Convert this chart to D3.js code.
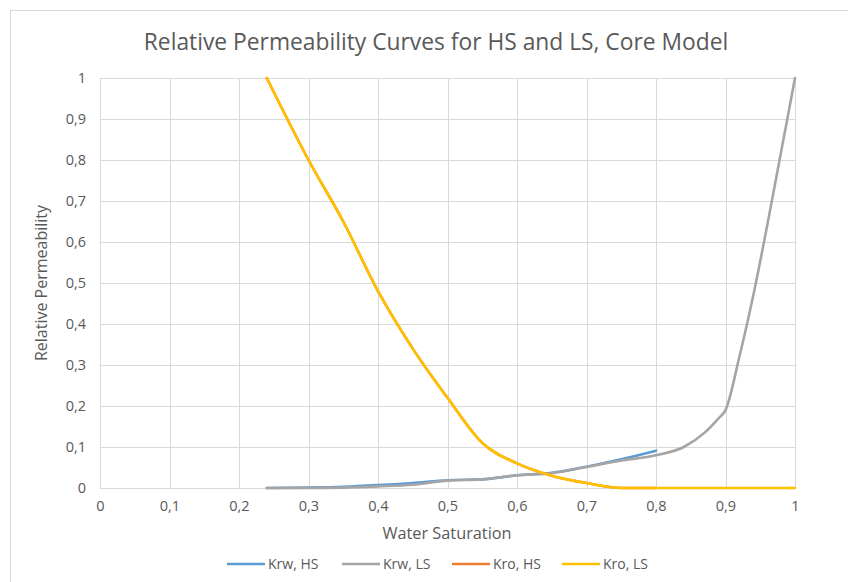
<!DOCTYPE html>
<html>
<head>
<meta charset="utf-8">
<script src="https://cdnjs.cloudflare.com/ajax/libs/d3/7.8.5/d3.min.js"></script>
<style>
  html, body { margin: 0; padding: 0; background: #fff; }
  svg { display: block; }
  text { font-family: "Open Sans", "Noto Sans", sans-serif; fill: #595959; }
</style>
</head>
<body>
<svg id="chart" width="848" height="582"></svg>
<script>
// Water saturation points and relative permeability values per series
const swKrwHS = [0.24, 0.30, 0.35, 0.40, 0.45, 0.50, 0.55, 0.60, 0.65, 0.70, 0.75, 0.80];
const krwHS   = [0.000, 0.001, 0.003, 0.007, 0.012, 0.019, 0.021, 0.031, 0.037, 0.052, 0.070, 0.091];

const swKrwLS = [0.24, 0.30, 0.35, 0.40, 0.45, 0.50, 0.55, 0.60, 0.65, 0.70, 0.75, 0.80, 0.84, 0.87, 0.89, 0.90, 0.92, 0.94, 0.96, 0.98, 1.00];
const krwLS   = [0.000, 0.000, 0.001, 0.004, 0.008, 0.018, 0.021, 0.031, 0.036, 0.051, 0.067, 0.080, 0.100, 0.135, 0.170, 0.190, 0.320, 0.470, 0.640, 0.820, 1.000];

const swKroHS = [0.24, 0.30, 0.35, 0.40, 0.45, 0.50, 0.55, 0.60, 0.65, 0.70, 0.75, 0.80];
const kroHS   = [1.00, 0.80, 0.65, 0.48, 0.34, 0.22, 0.11, 0.06, 0.03, 0.012, 0.000, 0.000];

const swKroLS = [0.24, 0.30, 0.35, 0.40, 0.45, 0.50, 0.55, 0.60, 0.65, 0.70, 0.75, 0.80, 0.85, 0.90, 0.95, 1.00];
const kroLS   = [1.00, 0.80, 0.65, 0.48, 0.34, 0.22, 0.11, 0.06, 0.03, 0.012, 0.000, 0.000, 0.000, 0.000, 0.000, 0.000];

const seriesNames  = ["Krw, HS", "Krw, LS", "Kro, HS", "Kro, LS"];
const seriesColors = ["#5B9BD5", "#A5A5A5", "#ED7D31", "#FFC000"];

const xTicks = [0, 0.1, 0.2, 0.3, 0.4, 0.5, 0.6, 0.7, 0.8, 0.9, 1];
const yTicks = [0, 0.1, 0.2, 0.3, 0.4, 0.5, 0.6, 0.7, 0.8, 0.9, 1];

const chartTitle = "Relative Permeability Curves for HS and LS, Core Model";
const xTitle = "Water Saturation";
const yTitle = "Relative Permeability";

const series = [
  { name: seriesNames[0], color: seriesColors[0], pts: swKrwHS.map((s, i) => [s, krwHS[i]]) },
  { name: seriesNames[1], color: seriesColors[1], pts: swKrwLS.map((s, i) => [s, krwLS[i]]) },
  { name: seriesNames[2], color: seriesColors[2], pts: swKroHS.map((s, i) => [s, kroHS[i]]) },
  { name: seriesNames[3], color: seriesColors[3], pts: swKroLS.map((s, i) => [s, kroLS[i]]) }
];

const svg = d3.select("#chart");
const plot = { left: 100, top: 78, right: 795, bottom: 488 };

// chart area outline
svg.append("rect")
  .attr("x", 10.5).attr("y", 10.5)
  .attr("width", 900).attr("height", 700)
  .attr("fill", "#fff").attr("stroke", "#D9D9D9").attr("stroke-width", 1);

const x = d3.scaleLinear().domain([0, 1]).range([plot.left, plot.right]);
const y = d3.scaleLinear().domain([0, 1]).range([plot.bottom, plot.top]);
const fmt = d => String(d3.format(".1~f")(d)).replace(".", ",");

// gridlines
const grid = svg.append("g");
grid.selectAll("line.v").data(xTicks).join("line")
  .attr("x1", d => Math.round(x(d)) + 0.5).attr("x2", d => Math.round(x(d)) + 0.5)
  .attr("y1", plot.top).attr("y2", plot.bottom)
  .attr("stroke", "#D9D9D9").attr("stroke-width", 1);
grid.selectAll("line.h").data(yTicks).join("line")
  .attr("y1", d => Math.round(y(d)) + 0.5).attr("y2", d => Math.round(y(d)) + 0.5)
  .attr("x1", plot.left).attr("x2", plot.right)
  .attr("stroke", "#D9D9D9").attr("stroke-width", 1);

// axes (labels only, Excel style)
const xAxis = d3.axisBottom(x).tickValues(xTicks).tickFormat(fmt).tickSize(0).tickPadding(13);
const yAxis = d3.axisLeft(y).tickValues(yTicks).tickFormat(fmt).tickSize(0).tickPadding(14);
const gx = svg.append("g").attr("transform", `translate(0,${plot.bottom})`).call(xAxis);
const gy = svg.append("g").attr("transform", `translate(${plot.left},0)`).call(yAxis);
[gx, gy].forEach(g => {
  g.select(".domain").remove();
  g.selectAll("text").attr("fill", "#595959").style("font-size", "14.5px")
    .style("font-family", "'Open Sans', 'Noto Sans', sans-serif");
});

// curves
const line = d3.line().x(d => x(d[0])).y(d => y(d[1])).curve(d3.curveMonotoneX);
svg.append("g").selectAll("path").data(series).join("path")
  .attr("d", d => line(d.pts))
  .attr("fill", "none")
  .attr("stroke", d => d.color)
  .attr("stroke-width", 2.6)
  .attr("stroke-linejoin", "round")
  .attr("stroke-linecap", "round");

// titles
svg.append("text").attr("x", 436).attr("y", 50).attr("text-anchor", "middle")
  .style("font-size", "22.8px").text(chartTitle);
svg.append("text").attr("x", 447).attr("y", 539).attr("text-anchor", "middle")
  .style("font-size", "16.3px").text(xTitle);
svg.append("text").attr("transform", "translate(47,283) rotate(-90)").attr("text-anchor", "middle")
  .style("font-size", "16px").text(yTitle);

// legend
const legendX = [227, 342, 452, 562];
const leg = svg.append("g").selectAll("g").data(series).join("g")
  .attr("transform", (d, i) => `translate(${legendX[i]},564)`);
leg.append("line").attr("x1", 0).attr("x2", 38).attr("y1", 0).attr("y2", 0)
  .attr("stroke", d => d.color).attr("stroke-width", 2.6);
leg.append("text").attr("x", 41).attr("y", 0).attr("dy", "0.35em")
  .style("font-size", "14px").text(d => d.name);
</script>
</body>
</html>
